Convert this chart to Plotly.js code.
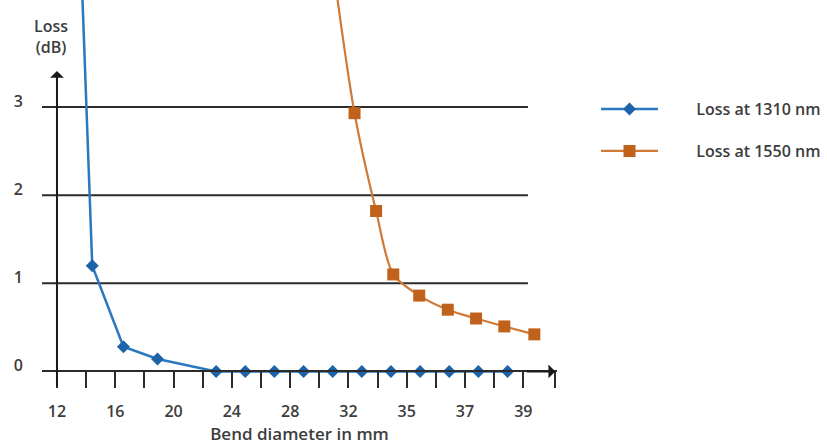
<!DOCTYPE html>
<html>
<head>
<meta charset="utf-8">
<script src="https://cdn.plot.ly/plotly-3.0.1.min.js"></script>
<style>html,body{margin:0;padding:0;background:#fff;}#chart{width:827px;height:446px;}</style>
</head>
<body>
<div id="chart"></div>
<script>
// Axis positions (evenly spaced tick slots) and their printed labels
const tickSlots = [0,1,2,3,4,5,6,7,8,9,10,11,12,13,14,15,16,17.09];
const tickLabels = ['12','','16','','20','','24','','28','','32','','35','','37','','39',''];
const lossTicks = [0,1,2,3];

// Loss at 1310 nm (x in tick-slot units, y in dB); first point lies above the visible range
const pos1310 = [0.8, 1.21, 2.28, 3.45, 5.46, 6.46, 7.46, 8.46, 9.46, 10.46, 11.46, 12.46, 13.46, 14.46, 15.46];
const loss1310 = [4.9, 1.20, 0.28, 0.14, 0, 0, 0, 0, 0, 0, 0, 0, 0, 0, 0];

// Loss at 1550 nm; first point lies above the visible range
const pos1550 = [9.44, 10.21, 10.95, 11.54, 12.43, 13.41, 14.38, 15.35, 16.38];
const loss1550 = [4.67, 2.93, 1.82, 1.10, 0.86, 0.70, 0.60, 0.51, 0.42];

const seriesNames = ['Loss at 1310 nm', 'Loss at 1550 nm'];

const FONT = 'Open Sans, Noto Sans, sans-serif';
const TXT = '#3d3d3d';
const AX = '#2b2b2b';
const PAD = '\u00a0'.repeat(8);

const traces = [
  {
    x: pos1310, y: loss1310, name: PAD + seriesNames[0], type: 'scatter', mode: 'lines+markers',
    line: {color: '#2a78bd', width: 2.5},
    marker: {symbol: 'diamond', size: 10, color: '#1e63a8'},
    cliponaxis: false, legendgroup: 'a'
  },
  {
    x: pos1550, y: loss1550, name: PAD + seriesNames[1], type: 'scatter', mode: 'lines+markers',
    line: {color: '#d07a38', width: 2.2, shape: 'spline', smoothing: 0.8},
    marker: {symbol: 'square', size: 12, color: '#c0621c'},
    cliponaxis: false, legendgroup: 'b'
  }
];

const gridEnd = 16.16;
const shapes = lossTicks.filter(v => v > 0).map(v => ({
  type: 'line', xref: 'x', yref: 'y', x0: -0.514, x1: gridEnd, y0: v, y1: v,
  line: {color: AX, width: 2}, layer: 'below'
}));

const layout = {
  width: 827, height: 446,
  margin: {l: 42, r: 270, t: 0, b: 56.7},
  paper_bgcolor: '#fff', plot_bgcolor: '#fff',
  font: {family: FONT, color: TXT, size: 16, weight: 600},
  title: {text: 'Loss<br>(dB)', x: 51 / 827, xanchor: 'center', y: 1 - 32 / 446, yanchor: 'middle',
          font: {family: FONT, size: 16, color: TXT, weight: 600}},
  xaxis: {
    range: [-0.514, 17.157], anchor: 'free', position: 0.2 / 4.4143,
    tickmode: 'array', tickvals: tickSlots, ticktext: tickLabels,
    showgrid: false, zeroline: false,
    showline: true, linecolor: AX, linewidth: 2,
    ticks: 'outside', ticklen: 16, tickwidth: 2, tickcolor: AX,
    ticklabelstandoff: 9,
    tickfont: {family: FONT, size: 16, color: TXT, weight: 600},
    title: {text: 'Bend diameter in mm', standoff: 4, font: {family: FONT, size: 17, color: TXT, weight: 600}}
  },
  yaxis: {
    range: [-0.2, 4.2143],
    tickmode: 'array', tickvals: lossTicks,
    showgrid: false, zeroline: false, showline: false, ticks: '',
    ticklabelstandoff: 18, ticklabelshift: -6,
    tickfont: {family: FONT, size: 16, color: TXT, weight: 600}
  },
  showlegend: true,
  legend: {
    x: (596 - 42) / 515, xanchor: 'left', y: 0.763, yanchor: 'top',
    font: {family: FONT, size: 16, color: TXT, weight: 600},
    itemwidth: 57, tracegroupgap: 18, traceorder: 'grouped',
    bgcolor: 'rgba(0,0,0,0)'
  },
  shapes: shapes,
  annotations: [
    {x: 0, y: 3.41, xref: 'x', yref: 'y', text: '', showarrow: true, ax: 0, ay: 317,
     arrowhead: 1, arrowsize: 1.15, arrowwidth: 2, arrowcolor: '#1a1a1a', standoff: 0},
    {x: 17.1, y: 0, xref: 'x', yref: 'y', text: '', showarrow: true, ax: -30, ay: 0,
     arrowhead: 1, arrowsize: 1.15, arrowwidth: 2, arrowcolor: '#1a1a1a', standoff: 0}
  ]
};

Plotly.newPlot('chart', traces, layout, {displayModeBar: false, staticPlot: true});
</script>
</body>
</html>
